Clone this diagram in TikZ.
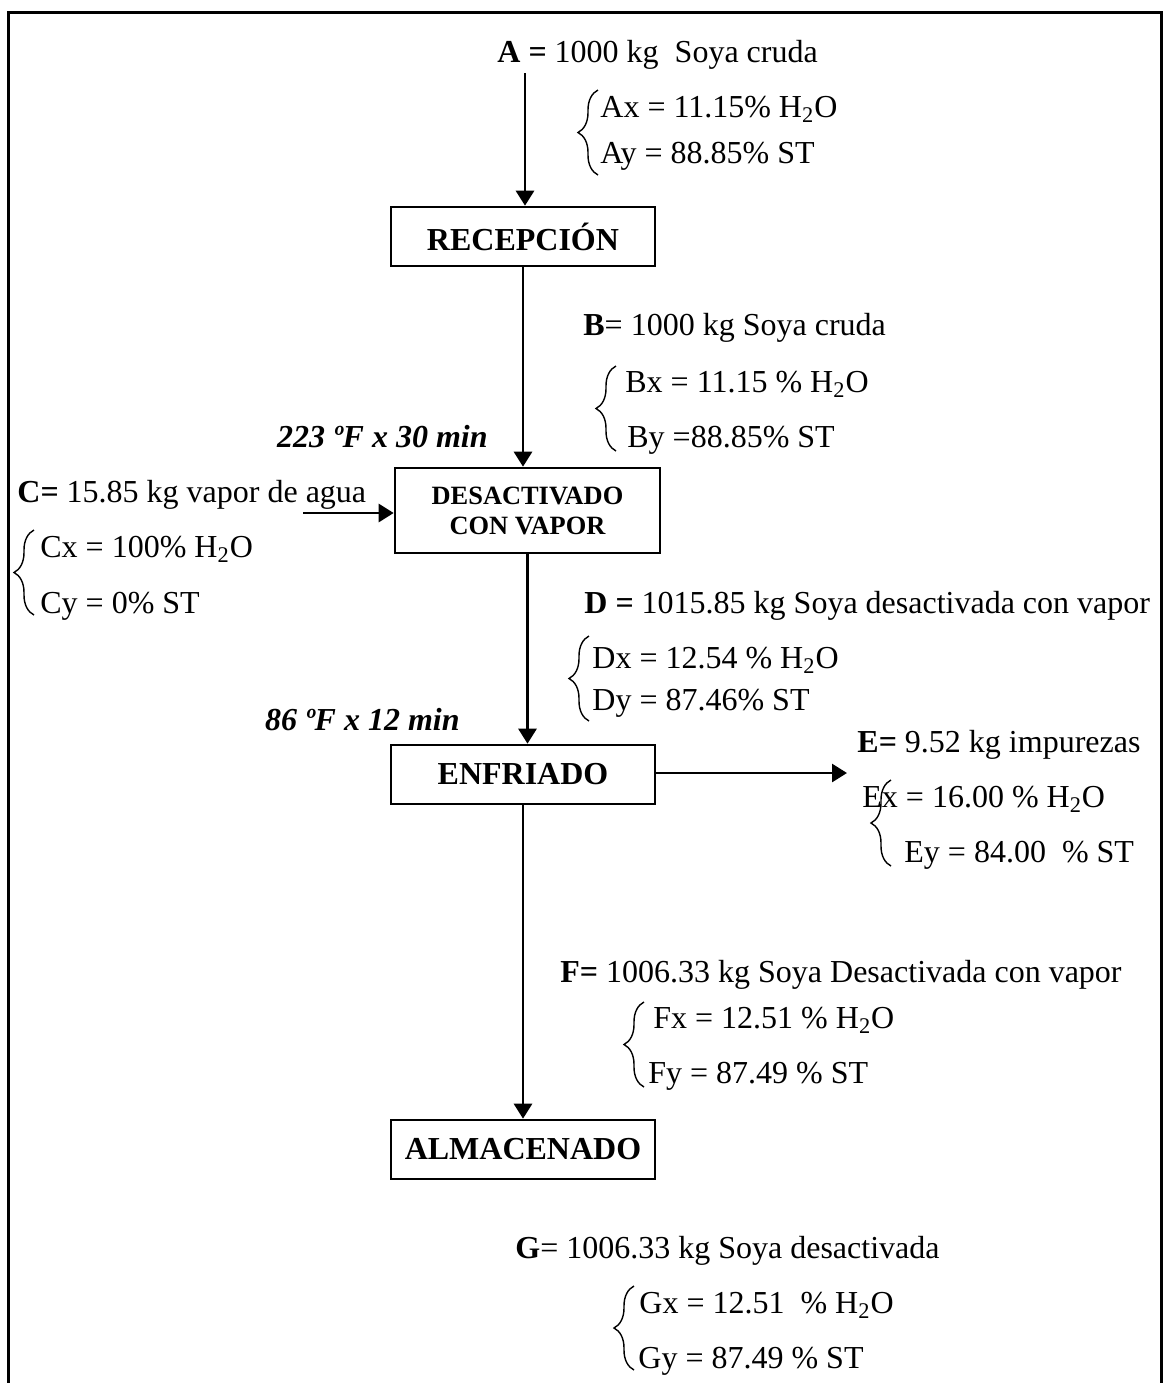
\documentclass[tikz,border=0pt]{standalone}
\usepackage{fontspec}
\setmainfont{Liberation Serif}
\usetikzlibrary{arrows.meta,decorations.pathreplacing}
\begin{document}
\begin{tikzpicture}[x=0.5pt,y=-0.5pt,
  txt/.style={anchor=base west,inner sep=0pt,font=\fontsize{16}{19}\selectfont},
  cond/.style={anchor=base east,inner sep=0pt,font=\fontsize{16}{19}\selectfont\bfseries\itshape},
  stage/.style={draw,line width=1.3pt,minimum width=132pt,minimum height=29.5pt,inner sep=0pt,
    font=\fontsize{16}{19}\selectfont\bfseries},
  flow/.style={line width=1.4pt,-{Triangle[length=7.5pt,width=9pt]}},
  curly/.style={decorate,decoration={brace,amplitude=10pt},line width=0.7pt}]
\useasboundingbox (0,0) rectangle (1168,1383);

% outer frame (open at the bottom)
\draw[line width=1.5pt] (8,1383) -- (8,12.7) -- (1161,12.7) -- (1161,1383);

% process stages
\node[stage] (rec) at (523,236.5) {RECEPCIÓN};
\node[stage,minimum width=132.5pt,minimum height=42.5pt,align=center,
      font=\fontsize{13.2}{15}\selectfont\bfseries] (des) at (527.5,510.5) {DESACTIVADO\\CON VAPOR};
\node[stage] (enf) at (523,774.5) {ENFRIADO};
\node[stage] (alm) at (523,1149.5) {ALMACENADO};

% stream A
\node[txt] (A) at (497,62) {\textbf{A =} 1000 kg\ \ Soya cruda};
\node[txt] (Ax) at (600,117) {Ax = 11.15\% H\textsubscript{2}O};
\node[txt] (Ay) at (600,163) {Ay = 88.85\% ST};
\draw[curly] (598,175) -- (598,90);

% stream B
\node[txt] (B) at (583,335) {\textbf{B}= 1000 kg Soya cruda};
\node[txt] (Bx) at (625,392) {Bx = 11.15 \% H\textsubscript{2}O};
\node[txt] (By) at (627,447) {By =88.85\% ST};
\draw[curly] (616,451) -- (616,366);
\node[cond] (t1) at (488,447) {223 ºF x 30 min};

% stream C
\node[txt] (C) at (17,502) {\textbf{C=} 15.85 kg vapor de agua};
\node[txt] (Cx) at (40,557) {Cx = 100\% H\textsubscript{2}O};
\node[txt] (Cy) at (40,613) {Cy = 0\% ST};
\draw[curly] (34,615) -- (34,530);

% stream D
\node[txt] (D) at (584,613) {\textbf{D =} 1015.85 kg Soya desactivada con vapor};
\node[txt] (Dx) at (592,668) {Dx = 12.54 \% H\textsubscript{2}O};
\node[txt] (Dy) at (592,710) {Dy = 87.46\% ST};
\draw[curly] (589,721) -- (589,636);
\node[cond] (t2) at (460,730) {86 ºF x 12 min};

% stream E
\node[txt] (E) at (857,752) {\textbf{E=} 9.52 kg impurezas};
\node[txt] (Ex) at (862,807) {Ex = 16.00 \% H\textsubscript{2}O};
\node[txt] (Ey) at (904,862) {Ey = 84.00\ \ \% ST};
\draw[curly] (891,866) -- (891,780);

% stream F
\node[txt] (F) at (560,982) {\textbf{F=} 1006.33 kg Soya Desactivada con vapor};
\node[txt] (Fx) at (653,1028) {Fx = 12.51 \% H\textsubscript{2}O};
\node[txt] (Fy) at (648,1083) {Fy = 87.49 \% ST};
\draw[curly] (644,1087) -- (644,1002);

% stream G
\node[txt] (G) at (515,1258) {\textbf{G}= 1006.33 kg Soya desactivada};
\node[txt] (Gx) at (639,1313) {Gx = 12.51\ \ \% H\textsubscript{2}O};
\node[txt] (Gy) at (638,1368) {Gy = 87.49 \% ST};
\draw[curly] (634,1370) -- (634,1286);

% connectors
\coordinate (a0) at (525,73);
\coordinate (c0) at (303,513);
\coordinate (e1) at (847,773);
\draw[flow] (a0) -- (a0 |- rec.north);
\draw[flow] (rec.south) -- (rec.south |- des.north);
\draw[flow] (c0) -- (c0 -| des.west);
\draw[flow] (des.south) -- (des.south |- enf.north);
\draw[flow] (enf.east |- e1) -- (e1);
\draw[flow] (enf.south) -- (alm.north);
\end{tikzpicture}
\end{document}
